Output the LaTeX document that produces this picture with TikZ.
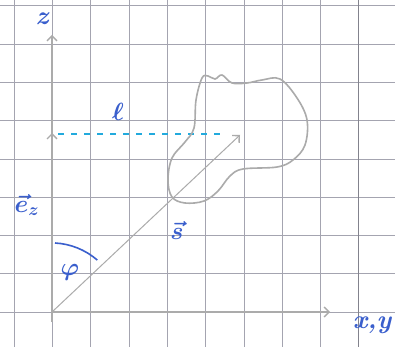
\documentclass[tikz,border=0pt]{standalone}
\usetikzlibrary{arrows.meta}
\definecolor{gridc}{HTML}{A4A4B0}
\definecolor{axisc}{HTML}{ABABAB}
\definecolor{inkblue}{HTML}{3A5FCD}
\definecolor{inkcyan}{HTML}{22AADD}
\tikzset{
  gridline/.style={gridc, line width=0.5pt},
  marginline/.style={gridc!80!black, line width=1.6pt},
  axisline/.style={axisc, line width=1.6pt},
  openhead/.style={-{Straight Barb[length=5pt,width=10pt,line width=1.4pt]}},
  lbl/.style={inkblue, font=\fontsize{26}{28}\selectfont\bfseries\itshape\boldmath, inner sep=0pt},
  dashedline/.style={inkcyan, line width=1.6pt, dash pattern=on 6pt off 7pt},
  blob/.style={axisc, line width=1.6pt},
}
\begin{document}
\begin{tikzpicture}[x=1pt,y=-1pt]
\useasboundingbox (0,0) rectangle (395,347);
\fill[white] (0,0) rectangle (395,347);
% grid
\foreach \i in {0,...,8} {
  \draw[gridline] (0,{312-38.3*\i}) -- (395,{312-38.3*\i});
}
\foreach \i in {0,...,10} {
  \ifnum\i=9\else
  \draw[gridline] ({14+38.3*\i},0) -- ({14+38.3*\i},347);
  \fi
}
\draw[marginline] (358.5,0) -- (358.5,347);
% named points
\coordinate (O) at (52,312);
\coordinate (Ob) at (52,322);
\coordinate (zt) at (52,35);
\coordinate (xt) at (330,312);
\coordinate (st) at (240,135);
\coordinate (ezt) at (52,134);
\coordinate (lst) at (58,134);
% axes
\draw[axisline, openhead] (Ob) -- (zt);
\draw[axisline, openhead] (O) -- (xt);
\draw[axisline, openhead, shorten >=-1pt] (52,150) -- (ezt);
% vector s
\draw[axisc, line width=1pt, openhead] (O) -- (st);
% dashed l
\draw[dashedline] (lst) -- (222,134);
% blob
\draw[blob] plot[smooth cycle, tension=0.6] coordinates {
  (202,78) (208,76) (215,79) (222,75) (232,83) (247,83) (262,80) (280,79)
  (297,98) (307,120) (305,145) (293,160) (277,167) (243,169) (230,176)
  (218,191) (204,201) (185,203) (172,197) (168,180) (172,158) (185,142)
  (194,128) (196,100)
};
% angle arc
\draw[inkblue, line width=1.6pt] (55,243) arc[start angle=-87, end angle=-49, radius=70];
% labels
\node[lbl] (zl) at (42,19) {z};
\node[lbl] (ll) at (118,112) {$\ell$};
\node[lbl] (ezl) at (27,205) {$\vec e_z$};
\node[lbl] (phl) at (70,272) {$\varphi$};
\node[lbl] (sl) at (177,230) {$\vec s$};
\node[lbl] (xyl) at (372,325) {x,y};
\end{tikzpicture}
\end{document}
